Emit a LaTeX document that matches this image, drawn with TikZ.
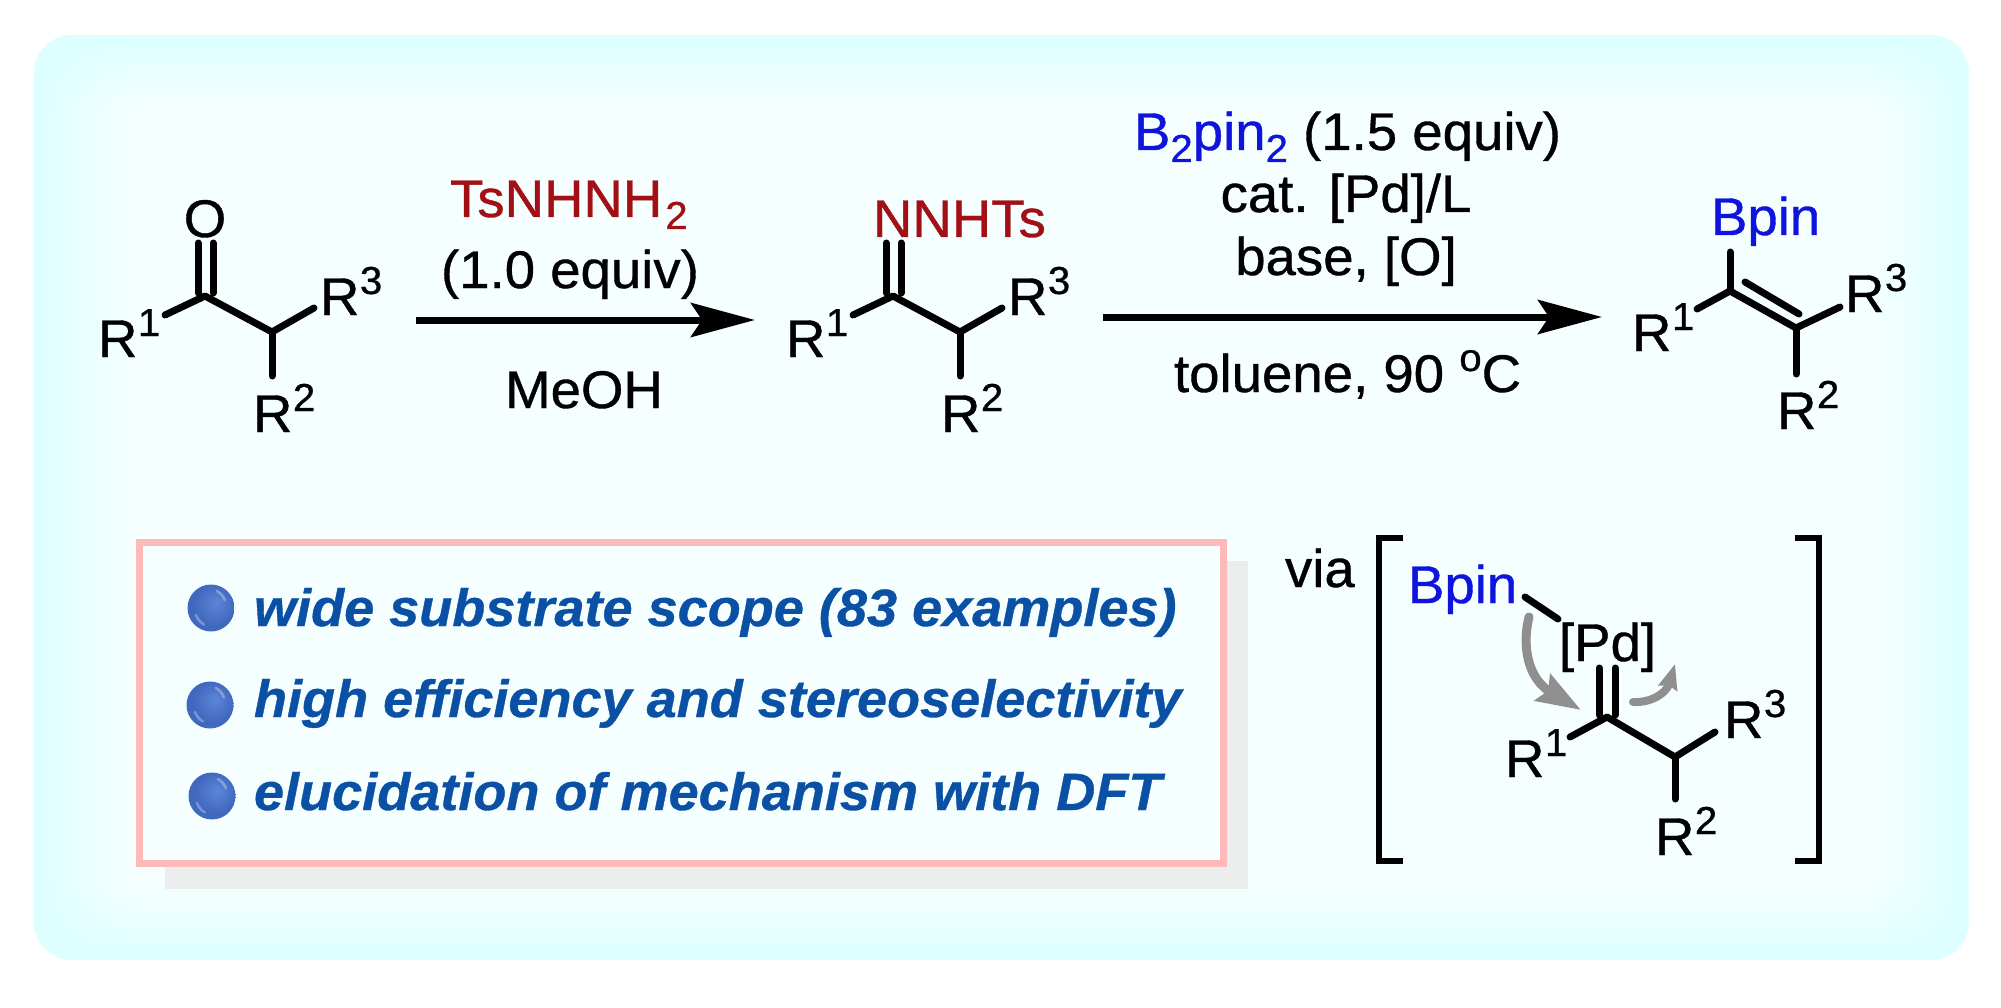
\documentclass[tikz,border=0pt]{standalone}
\usepackage{fontspec}
\setmainfont[FakeBold=0.7,FakeStretch=1.03]{Liberation Sans}
\usetikzlibrary{arrows.meta,fadings}
\definecolor{pcen}{HTML}{F5FFFF}
\definecolor{pedge}{HTML}{DDFFFF}
\definecolor{boxfill}{HTML}{F6FFFF}
\definecolor{pinkline}{HTML}{FFB9B9}
\definecolor{shadowc}{HTML}{ECEEEE}
\definecolor{dred}{HTML}{A20F14}
\definecolor{bblue}{HTML}{0F14DC}
\definecolor{tblue}{HTML}{0A50A5}
\definecolor{ballin}{HTML}{5C86DA}
\definecolor{ballout}{HTML}{4068BE}
\definecolor{garrow}{HTML}{8F8F8F}
\tikzfading[name=fadeR, left color=transparent!0, right color=transparent!100]
\tikzfading[name=fadeL, right color=transparent!0, left color=transparent!100]
\tikzfading[name=fadeD, top color=transparent!0, bottom color=transparent!100]
\tikzfading[name=fadeU, bottom color=transparent!0, top color=transparent!100]
\pgfdeclareradialshading{ballshade}{\pgfpoint{6bp}{6bp}}{color(0bp)=(ballin); color(22bp)=(ballout); color(50bp)=(ballout)}
\newcommand{\supn}[1]{\kern0.5pt\raisebox{21pt}{\fontsize{39}{39}\selectfont #1}}
\newcommand{\subn}[1]{\raisebox{-12pt}{\fontsize{39}{39}\selectfont #1}}
\tikzset{
  x=1pt,y=-1pt,
  lab/.style={inner sep=0pt,outer sep=0pt,anchor=base west,font=\fontsize{53}{53}\selectfont},
  cen/.style={inner sep=0pt,outer sep=0pt,anchor=base,font=\fontsize{53}{53}\selectfont},
  bond/.style={line width=7pt,line cap=round,line join=round,black},
  rxn/.style={line width=7pt,black,-{Stealth[length=64pt,width=34pt,inset=11pt]}},
  brk/.style={line width=6pt,line cap=butt,line join=miter,black},
  curly/.style={line width=9pt,garrow,line cap=round},
  point/.style={lab,font=\fontsize{52.5}{53}\bfseries\itshape\selectfont,text=tblue},
}
\begin{document}
\begin{tikzpicture}
\useasboundingbox (0,0) rectangle (2001,1008);
\fill[white] (0,0) rectangle (2001,1008);
\begin{scope}
\clip[rounded corners=38pt] (34,35) rectangle (1969,960);
\fill[pcen] (34,35) rectangle (1969,960);
\fill[pedge,path fading=fadeR] (34,35) rectangle (130,960);
\fill[pedge,path fading=fadeL] (1873,35) rectangle (1969,960);
\fill[pedge,path fading=fadeD] (34,35) rectangle (1969,110);
\fill[pedge,path fading=fadeU] (34,885) rectangle (1969,960);
\end{scope}

% --- box
\fill[shadowc] (165,561) rectangle (1248,889);
\draw[line width=7pt,pinkline,fill=boxfill] (139.5,542.5) rectangle (1223,863.5);

\foreach \n/\bx/\by in {a/211/608,b/210/705,c/212/796}{
  \path[shading=ballshade] (\bx,\by) circle[radius=23.5];
  \draw[white,opacity=.3,line width=2.5pt,line cap=round] (\bx+6,\by-17) arc[start angle=-60,end angle=-20,radius=18];
  \draw[white,opacity=.3,line width=2.5pt,line cap=round] (\bx-15,\by+7) arc[start angle=160,end angle=120,radius=18];
}
\node[point] (p1) at (254,626) {wide substrate scope (83 examples)};
\node[point] (p2) at (254,717) {high efficiency and stereoselectivity};
\node[point] (p3) at (254,810) {elucidation of mechanism with DFT};

% --- molecule 1
\node[lab] (a1) at (98,357) {R\supn{1}};
\node[lab] (a3) at (320,315) {R\supn{3}};
\node[lab] (a2) at (253,432) {R\supn{2}};
\node[cen] (ao) at (205,237) {O};
\coordinate (ac) at (205,296);
\coordinate (ad) at (272,332);
\coordinate (ar1) at (165,315);
\coordinate (ar3) at (314,308);
\coordinate (ar2) at (272,376);
\coordinate (ao1) at (198,243);
\coordinate (ao2) at (213,243);
\coordinate (ac1) at (198,293);
\coordinate (ac2) at (213,293);
\draw[bond] (ar1) -- (ac) -- (ad) -- (ar3);
\draw[bond] (ad) -- (ar2);
\draw[bond] (ao1) -- (ac1);
\draw[bond] (ao2) -- (ac2);

% --- arrow 1
\coordinate (r1s) at (416,320);
\coordinate (r1e) at (755,320);
\draw[rxn] (r1s) -- (r1e);
\node[lab,text=dred] (tsn) at (450,217) {TsNHNH\kern3pt\subn{2}};
\node[cen] (eq1) at (570,288) {(1.0 equiv)};
\node[cen] (meoh) at (584,408) {MeOH};

% --- molecule 2
\node[lab] (b1) at (786,357) {R\supn{1}};
\node[lab] (b3) at (1008,315) {R\supn{3}};
\node[lab] (b2) at (941,432) {R\supn{2}};
\node[lab,text=dred] (bn) at (873,237) {NNHTs};
\coordinate (bc) at (893,296);
\coordinate (bd) at (960,332);
\coordinate (br1) at (853,315);
\coordinate (br3) at (1002,308);
\coordinate (br2) at (960,376);
\coordinate (bo1) at (886,243);
\coordinate (bo2) at (901,243);
\coordinate (bc1) at (886,293);
\coordinate (bc2) at (901,293);
\draw[bond] (br1) -- (bc) -- (bd) -- (br3);
\draw[bond] (bd) -- (br2);
\draw[bond] (bo1) -- (bc1);
\draw[bond] (bo2) -- (bc2);

% --- arrow 2
\coordinate (r2s) at (1103,317);
\coordinate (r2e) at (1602,317);
\draw[rxn] (r2s) -- (r2e);
\node[lab] (c1t) at (1134,150) {{\color{bblue}B\subn{2}pin\subn{2}} (1.5 equiv)};
\node[cen] (c2t) at (1346,212) {cat. [Pd]/L};
\node[cen] (c3t) at (1346,275) {base, [O]};
\node[lab] (c4t) at (1174,392) {toluene, 90 \raisebox{21pt}{\fontsize{39}{39}\selectfont o}C};

% --- molecule 3
\node[lab] (d1) at (1632,351) {R\supn{1}};
\node[lab] (d3) at (1845,312) {R\supn{3}};
\node[lab] (d2) at (1777,429) {R\supn{2}};
\node[lab,text=bblue] (db) at (1711,235) {Bpin};
\coordinate (dc1) at (1730,291);
\coordinate (dc2) at (1796,328);
\coordinate (dr1) at (1697,309);
\coordinate (dtop) at (1730,252);
\coordinate (dr3) at (1840,307);
\coordinate (dr2) at (1796,374);
\coordinate (din1) at (1745,282);
\coordinate (din2) at (1799,314);
\draw[bond] (dr1) -- (dc1) -- (dc2) -- (dr3);
\draw[bond] (dtop) -- (dc1);
\draw[bond] (dc2) -- (dr2);
\draw[bond] (din1) -- (din2);

% --- intermediate
\node[lab] (via) at (1285,587) {via};
\coordinate (lb1) at (1403,538);
\coordinate (lb2) at (1379,538);
\coordinate (lb3) at (1379,861);
\coordinate (lb4) at (1403,861);
\coordinate (rb1) at (1795,538);
\coordinate (rb2) at (1819,538);
\coordinate (rb3) at (1819,861);
\coordinate (rb4) at (1795,861);
\draw[brk] (lb1) -- (lb2) -- (lb3) -- (lb4);
\draw[brk] (rb1) -- (rb2) -- (rb3) -- (rb4);
\node[lab,text=bblue] (ib) at (1408,603) {Bpin};
\node[lab] (ipd) at (1559,661) {[Pd]};
\coordinate (ibb1) at (1525,597);
\coordinate (ibb2) at (1558,619);
\draw[bond] (ibb1) -- (ibb2);
\node[lab] (e1) at (1505,777) {R\supn{1}};
\node[lab] (e3) at (1724,738) {R\supn{3}};
\node[lab] (e2) at (1655,855) {R\supn{2}};
\coordinate (ec) at (1607,717);
\coordinate (ed) at (1675,757);
\coordinate (er1) at (1570,737);
\coordinate (er3) at (1715,732);
\coordinate (er2) at (1675,799);
\coordinate (eo1) at (1599,668);
\coordinate (eo2) at (1615,668);
\coordinate (ec1) at (1599,715);
\coordinate (ec2) at (1615,715);
\draw[bond] (er1) -- (ec) -- (ed) -- (er3);
\draw[bond] (ed) -- (er2);
\draw[bond] (eo1) -- (ec1);
\draw[bond] (eo2) -- (ec2);

% --- curly arrows
\coordinate (cas) at (1529,617);
\coordinate (cae) at (1581,710);
\coordinate (cbs) at (1633,702);
\coordinate (cbe) at (1675,664);
\draw[curly,-{Stealth[length=44pt,width=30pt,inset=6pt]}] (cas) .. controls (1521,650) and (1530,680) .. (cae);
\draw[curly,line width=8pt,-{Stealth[length=25pt,width=19pt,inset=3pt]}] (cbs) .. controls (1650,703) and (1666,694) .. (cbe);
\end{tikzpicture}
\end{document}
